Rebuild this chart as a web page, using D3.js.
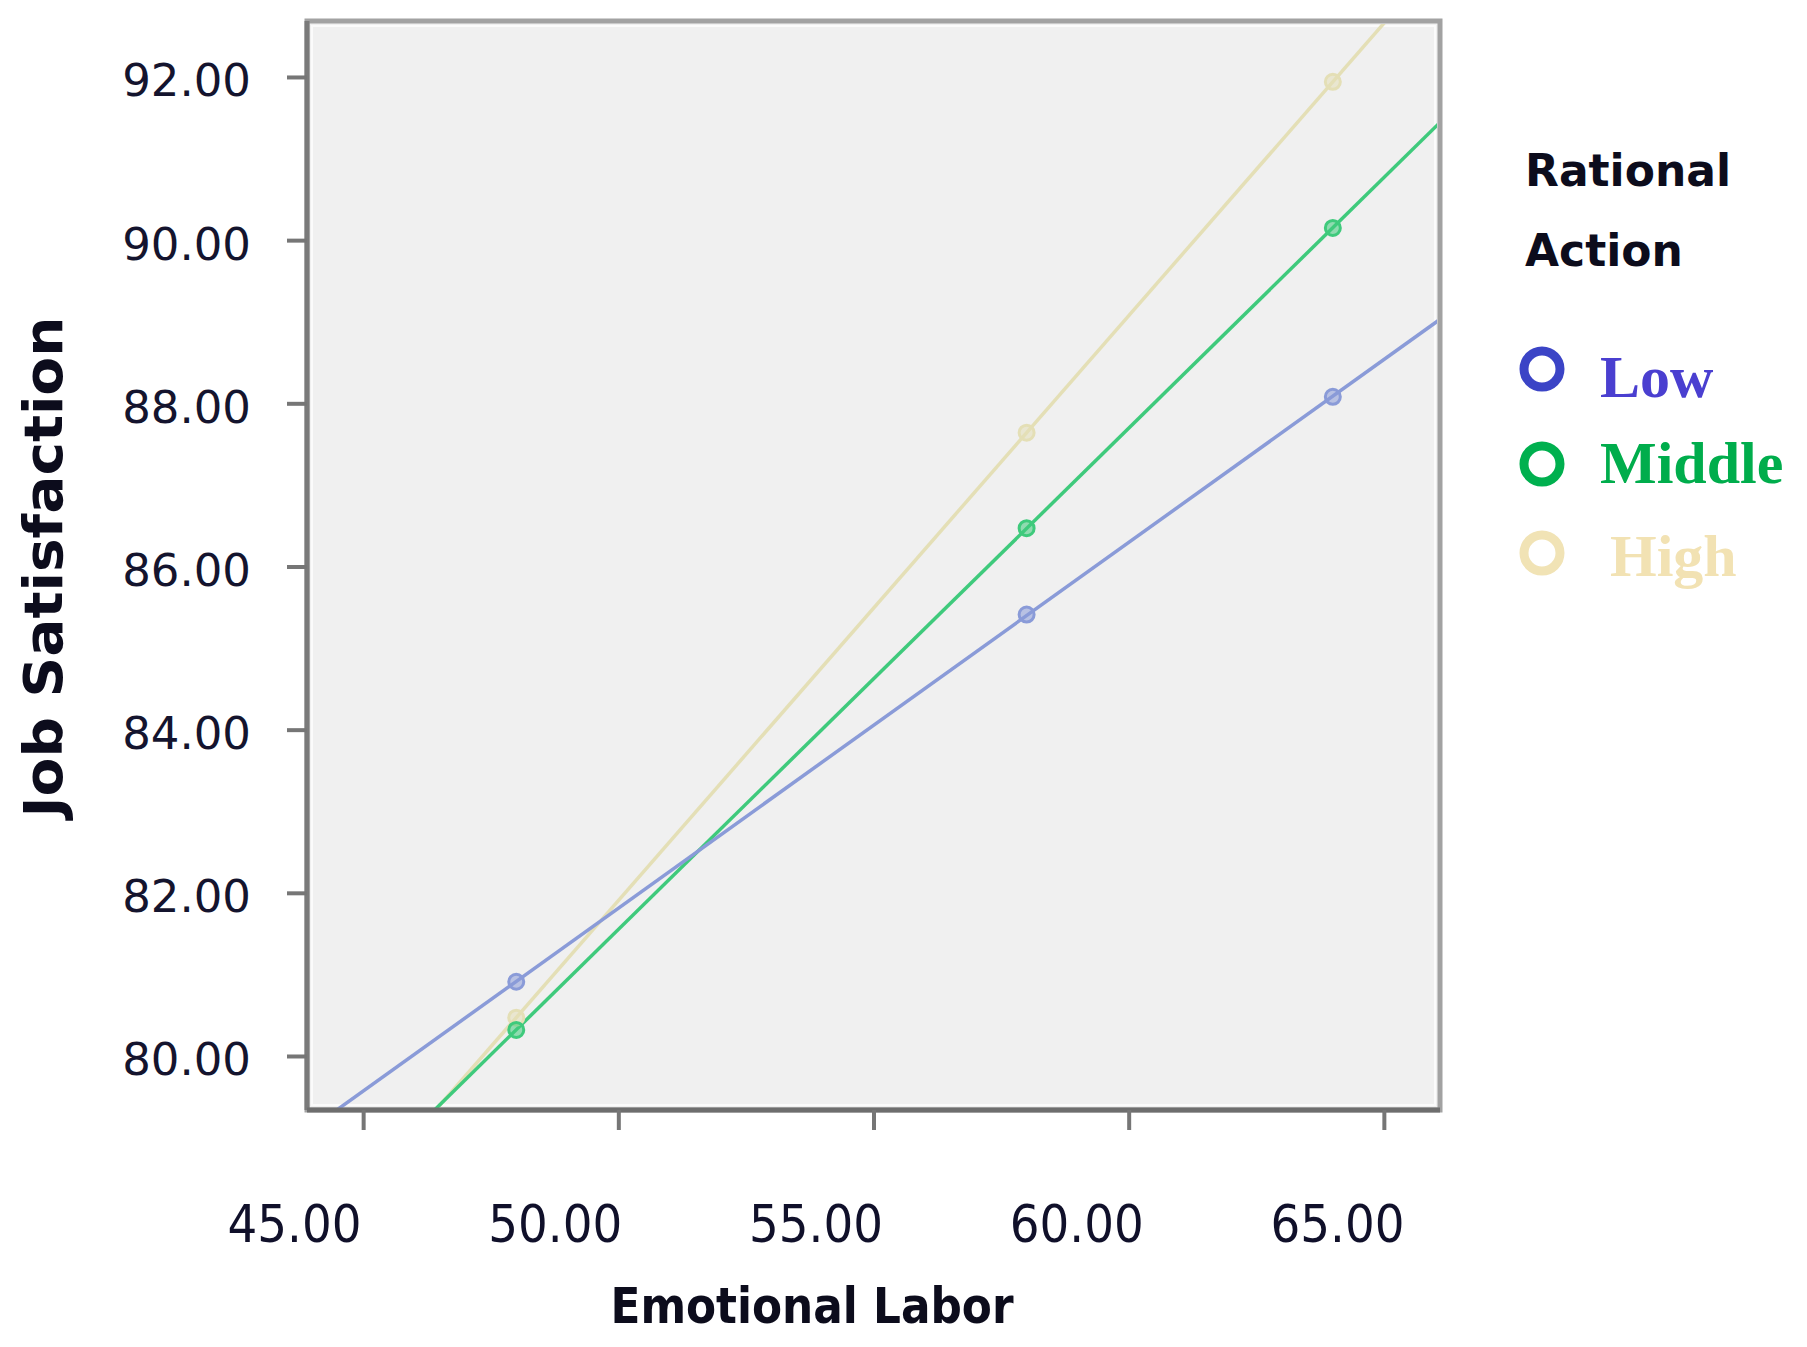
<!DOCTYPE html>
<html>
<head>
<meta charset="utf-8">
<script src="https://cdn.jsdelivr.net/npm/d3@7"></script>
<style>
  html, body { margin: 0; padding: 0; background: #ffffff; }
  svg { display: block; }
</style>
</head>
<body>
<svg id="chart" width="1807" height="1347"></svg>
<script>
// ---- data ----
const groups = ["Low", "Middle", "High"];
const emotionalLabor = [48.0, 58.0, 64.0];
const lowValues = [80.91, 85.41, 88.08];
const middleValues = [80.32, 86.47, 90.15];
const highValues = [80.47, 87.64, 91.94];
const xTicks = [45, 50, 55, 60, 65];
const yTicks = [80, 82, 84, 86, 88, 90, 92];
const legendTitle = ["Rational", "Action"];
const xTitle = "Emotional Labor";
const yTitle = "Job Satisfaction";

const seriesValues = [lowValues, middleValues, highValues];
const lineColors = ["#8a9bd8", "#3fca7c", "#e4dfb6"];
const markerColors = ["#3b44c6", "#00b04f", "#f1e3b5"];
const textColors = ["#4a3fd0", "#00ad4c", "#f2e2b3"];

// ---- layout ----
const plot = { left: 307, right: 1440, top: 21, bottom: 1110 };
const svg = d3.select("#chart");

const x = d3.scaleLinear().domain([43.9, 66.1]).range([plot.left, plot.right]);
const y = d3.scaleLinear().domain([79.338, 92.686]).range([plot.bottom, plot.top]);
// label positions in the original are shifted left of the ticks
const xLabel = d3.scaleLinear().domain([45, 65]).range([294, 1337]);

// background
svg.append("rect")
  .attr("x", plot.left).attr("y", plot.top)
  .attr("width", plot.right - plot.left).attr("height", plot.bottom - plot.top)
  .attr("fill", "#f0f0f0");
// inner white line
svg.append("rect")
  .attr("x", plot.left + 5).attr("y", plot.top + 5)
  .attr("width", plot.right - plot.left - 10).attr("height", plot.bottom - plot.top - 10)
  .attr("fill", "none").attr("stroke", "#fbfbfb").attr("stroke-width", 2);
// outer frame
svg.append("rect")
  .attr("x", plot.left).attr("y", plot.top)
  .attr("width", plot.right - plot.left).attr("height", plot.bottom - plot.top)
  .attr("fill", "none").attr("stroke", "#a2a2a2").attr("stroke-width", 5);

// clip
svg.append("clipPath").attr("id", "plotclip")
  .append("rect")
  .attr("x", plot.left + 2).attr("y", plot.top + 3)
  .attr("width", plot.right - plot.left - 5).attr("height", plot.bottom - plot.top - 5);

// regression lines and points
const gData = svg.append("g").attr("clip-path", "url(#plotclip)");
function fit(xs, ys) {
  const mx = d3.mean(xs), my = d3.mean(ys);
  const sxy = d3.sum(xs, (v, i) => (v - mx) * (ys[i] - my));
  const sxx = d3.sum(xs, v => (v - mx) * (v - mx));
  const b = sxy / sxx;
  return { b, a: my - b * mx };
}
const lineGen = d3.line().x(d => x(d[0])).y(d => y(d[1]));
const order = [2, 1, 0];
order.forEach(i => {
  const f = fit(emotionalLabor, seriesValues[i]);
  const dom = x.domain();
  const ends = dom.map(v => [v, f.a + f.b * v]);
  gData.append("path")
    .attr("d", lineGen(ends))
    .attr("fill", "none")
    .attr("stroke", lineColors[i])
    .attr("stroke-width", 3.5);
});
order.forEach(i => {
  gData.selectAll(null)
    .data(emotionalLabor.map((v, k) => [v, seriesValues[i][k]]))
    .enter().append("circle")
    .attr("cx", d => x(d[0])).attr("cy", d => y(d[1]))
    .attr("r", 7.5)
    .attr("fill", lineColors[i]).attr("fill-opacity", 0.55)
    .attr("stroke", lineColors[i]).attr("stroke-width", 3);
});

// axes
const yAxis = d3.axisLeft(y).tickValues(yTicks).tickSize(20).tickPadding(36)
  .tickFormat(d3.format(".2f"));
const gy = svg.append("g").attr("transform", `translate(${plot.left},0)`).call(yAxis);
gy.select(".domain").attr("stroke", "#7a7a7a").attr("stroke-width", 5)
  .attr("d", `M0,${plot.top}V${plot.bottom}`);
gy.selectAll(".tick line").attr("stroke", "#767676").attr("stroke-width", 4);
gy.selectAll(".tick text")
  .attr("font-family", "'DejaVu Sans', Verdana, sans-serif")
  .attr("font-size", 45)
  .attr("fill", "#14142e")
  .attr("dy", "0.42em");

const xAxis = d3.axisBottom(x).tickValues(xTicks).tickSize(20)
  .tickFormat(d3.format(".2f"));
const gx = svg.append("g").attr("transform", `translate(0,${plot.bottom})`).call(xAxis);
gx.select(".domain").attr("stroke", "#6e6e6e").attr("stroke-width", 5)
  .attr("d", `M${plot.left},0H${plot.right}`);
gx.selectAll(".tick line").attr("stroke", "#767676").attr("stroke-width", 4);
gx.selectAll(".tick text")
  .attr("font-family", "'DejaVu Sans Condensed', 'DejaVu Sans', sans-serif")
  .attr("font-size", 52)
  .attr("fill", "#10102a")
  .attr("y", 0)
  .attr("dy", 0)
  .attr("x", d => xLabel(d) - x(d))
  .attr("transform", "translate(0,132)");

// axis titles
svg.append("text")
  .attr("x", 812).attr("y", 1323)
  .attr("text-anchor", "middle")
  .attr("font-family", "'DejaVu Sans Condensed', 'DejaVu Sans', sans-serif")
  .attr("font-weight", "bold")
  .attr("font-size", 50)
  .attr("textLength", 403).attr("lengthAdjust", "spacingAndGlyphs")
  .attr("fill", "#0c0c1c")
  .text(xTitle);

svg.append("text")
  .attr("transform", "translate(62,567) rotate(-90)")
  .attr("text-anchor", "middle")
  .attr("font-family", "'DejaVu Sans', Verdana, sans-serif")
  .attr("font-weight", "bold")
  .attr("font-size", 53)
  .attr("textLength", 501).attr("lengthAdjust", "spacingAndGlyphs")
  .attr("fill", "#0c0c1c")
  .text(yTitle);

// legend
const legend = svg.append("g");
legend.selectAll("text.title")
  .data(legendTitle).enter().append("text")
  .attr("class", "title")
  .attr("x", 1525).attr("y", (d, i) => 186 + i * 80)
  .attr("font-family", "'DejaVu Sans', Verdana, sans-serif")
  .attr("font-weight", "bold")
  .attr("font-size", 44)
  .attr("fill", "#0c0c1c")
  .text(d => d);

const legendCy = [369, 464, 553];
const legendBase = [397, 483, 576];
const legendTx = [1600, 1600, 1610];
legend.selectAll("circle")
  .data(groups).enter().append("circle")
  .attr("cx", 1542).attr("cy", (d, i) => legendCy[i])
  .attr("r", 18)
  .attr("fill", "none")
  .attr("stroke", (d, i) => markerColors[i])
  .attr("stroke-width", 9);
legend.selectAll("text.item")
  .data(groups).enter().append("text")
  .attr("class", "item")
  .attr("x", (d, i) => legendTx[i]).attr("y", (d, i) => legendBase[i])
  .attr("font-family", "'Liberation Serif', 'Times New Roman', serif")
  .attr("font-weight", "bold")
  .attr("font-size", 60)
  .attr("fill", (d, i) => textColors[i])
  .text(d => d);
</script>
</body>
</html>
